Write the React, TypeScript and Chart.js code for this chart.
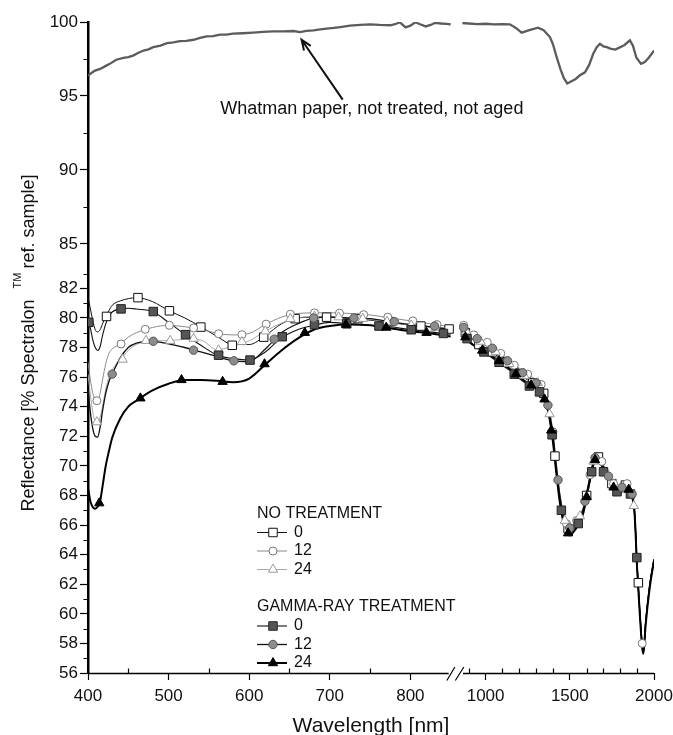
import React, { useEffect, useRef } from 'react';
import { Chart, LinearScale, registerables } from 'chart.js';

// ---------------- data ----------------
// Common wavelength grid for the six measured curves (null at 855 = axis break)
const WAVELENGTHS = [
  400, 403, 406, 409, 412, 415, 418, 422, 426, 430, 440, 450, 460, 480, 500, 520, 540, 560, 580, 600,
  620, 640, 660, 680, 700, 725, 750, 775, 800, 825, 850,
  855,
  867, 900, 950, 1000, 1050, 1100, 1150, 1200, 1250, 1300, 1330, 1360, 1380, 1400, 1420, 1440, 1460, 1480,
  1500, 1520, 1550, 1580, 1610, 1640, 1660, 1680, 1710, 1740, 1770, 1800, 1830, 1850, 1870, 1885, 1900,
  1915, 1930, 1937, 1950, 1975, 2000,
];

// NO TREATMENT, 0
const NT_0 = [
  81.4, 80.6, 79.8, 79.2, 79.05, 79.2, 79.6, 80.1, 80.5, 80.85, 81.15, 81.3, 81.37, 81.1, 80.5, 80.0, 79.4, 78.75, 78.2, 78.2,
  78.8, 79.6, 80.0, 80.05, 80.05, 79.95, 79.85, 79.7, 79.5, 79.4, 79.25,
  null,
  79.2, 78.8, 78.3, 78.0, 77.6, 77.1, 76.7, 76.2, 75.8, 75.5, 75.2, 74.4, 73.4, 71.9, 69.8, 67.9, 66.6, 65.9,
  65.7, 65.8, 66.2, 67.0, 68.6, 70.2, 70.75, 70.4, 69.6, 69.0, 68.5, 68.3, 68.7, 68.5, 68.0, 66.8, 63.0,
  60.2, 57.8, 57.4, 59.3, 61.9, 63.6,
];
// NO TREATMENT, 12
const NT_12 = [
  77.0, 75.8, 74.9, 74.45, 74.4, 74.9, 75.8, 76.9, 77.6, 77.9, 78.24, 78.7, 79.0, 79.35, 79.5, 79.4, 79.25, 78.95, 78.85, 78.95,
  79.55, 80.05, 80.3, 80.34, 80.35, 80.3, 80.2, 80.0, 79.8, 79.6, 79.4,
  null,
  79.5, 79.1, 78.7, 78.4, 78.0, 77.5, 77.0, 76.6, 76.2, 75.8, 75.5, 74.7, 73.7, 72.3, 70.2, 68.2, 66.9, 66.1,
  65.9, 66.0, 66.4, 67.2, 68.8, 70.4, 70.9, 70.6, 69.8, 69.2, 68.7, 68.5, 68.9, 68.7, 68.2, 67.0, 63.3,
  60.4, 58.0, 57.6, 59.4, 61.9, 63.5,
];
// NO TREATMENT, 24
const NT_24 = [
  76.2, 74.8, 73.6, 73.0, 72.9, 73.3, 74.0, 75.2, 76.0, 76.5, 77.15, 77.8, 78.2, 78.46, 78.46, 78.55, 78.5, 77.85, 78.1, 78.45,
  79.1, 79.65, 80.0, 80.1, 80.1, 80.0, 79.9, 79.7, 79.5, 79.35, 79.2,
  null,
  79.3, 78.9, 78.5, 78.2, 77.8, 77.3, 76.8, 76.4, 76.0, 75.7, 75.3, 74.5, 73.5, 72.0, 69.9, 68.0, 66.7, 66.0,
  65.8, 65.9, 66.3, 67.1, 68.7, 70.3, 70.8, 70.5, 69.7, 69.1, 68.6, 68.4, 68.8, 68.6, 68.1, 66.9, 63.1,
  60.3, 57.9, 57.5, 59.3, 61.8, 63.5,
];
// GAMMA-RAY TREATMENT, 0
const GR_0 = [
  79.9, 79.3, 78.5, 78.0, 77.8, 78.05, 78.8, 79.6, 80.1, 80.4, 80.6, 80.65, 80.6, 80.43, 79.7, 78.9, 78.15, 77.5, 77.25, 77.15,
  77.7, 78.65, 79.2, 79.5, 79.7, 79.6, 79.5, 79.4, 79.2, 79.05, 78.9,
  null,
  79.0, 78.5, 78.0, 77.6, 77.2, 76.8, 76.4, 75.9, 75.5, 75.2, 74.9, 74.1, 73.1, 71.7, 69.6, 67.7, 66.4, 65.8,
  65.6, 65.7, 66.1, 66.9, 68.4, 70.0, 70.6, 70.2, 69.4, 68.8, 68.3, 68.1, 68.5, 68.3, 67.9, 66.6, 63.2,
  60.3, 57.9, 57.5, 59.4, 62.0, 63.7,
];
// GAMMA-RAY TREATMENT, 12
const GR_12 = [
  75.2, 73.6, 72.5, 72.0, 71.95, 72.6, 73.7, 74.9, 75.7, 76.2, 77.3, 78.0, 78.3, 78.42, 78.25, 78.0, 77.7, 77.4, 77.1, 77.05,
  77.9, 79.0, 79.6, 79.99, 80.05, 80.0, 79.95, 79.75, 79.55, 79.4, 79.2,
  null,
  79.4, 79.0, 78.6, 78.3, 77.9, 77.4, 76.9, 76.5, 76.1, 75.6, 75.4, 74.6, 73.6, 72.1, 70.0, 68.1, 66.8, 66.0,
  65.8, 65.9, 66.3, 67.1, 68.7, 70.3, 70.8, 70.5, 69.7, 69.1, 68.6, 68.4, 68.8, 68.6, 68.1, 66.9, 63.2,
  60.3, 57.9, 57.5, 59.4, 62.0, 63.7,
];
// GAMMA-RAY TREATMENT, 24
const GR_24 = [
  68.5, 67.6, 67.2, 67.1, 67.25, 67.6, 68.6, 70.0, 71.0, 71.9, 73.2, 74.0, 74.4, 75.1, 75.55, 75.8, 75.8, 75.75, 75.65, 75.9,
  76.85, 77.8, 78.6, 79.2, 79.45, 79.55, 79.5, 79.3, 79.1, 78.95, 78.75,
  null,
  78.9, 78.4, 78.0, 77.7, 77.3, 76.9, 76.5, 76.0, 75.6, 75.3, 75.0, 74.2, 73.2, 71.6, 69.5, 67.6, 66.3, 65.6,
  65.3, 65.5, 66.0, 66.8, 68.5, 70.1, 70.65, 70.3, 69.5, 68.9, 68.4, 68.2, 68.6, 68.4, 67.9, 66.7, 63.0,
  60.1, 57.7, 57.3, 59.2, 61.8, 63.6,
];

// Symbol positions (wavelength / reflectance) for each curve
const NT_0_MARK_WL = [423, 462, 501, 540, 579, 618, 657, 696, 735, 774, 813, 848, 880, 960, 1040, 1120, 1200, 1280, 1345, 1412, 1490, 1600, 1670, 1750, 1830, 1907];
const NT_0_MARK_VAL = [80.1, 81.37, 80.48, 79.38, 78.15, 78.7, 79.95, 80.05, 79.95, 79.75, 79.45, 79.25, 79.0, 78.2, 77.7, 77.0, 76.2, 75.6, 74.9, 70.66, 65.75, 68.0, 70.6, 68.8, 68.7, 62.1];
const NT_12_MARK_WL = [411, 441, 471, 501, 531, 562, 591, 621, 651, 681, 712, 742, 772, 803, 833, 870, 930, 1010, 1090, 1170, 1250, 1330, 1400, 1480, 1540, 1620, 1690, 1760, 1840, 1930];
const NT_12_MARK_VAL = [74.4, 78.24, 79.23, 79.5, 79.32, 78.93, 78.87, 79.58, 80.25, 80.34, 80.32, 80.22, 80.05, 79.8, 79.55, 79.5, 78.85, 78.35, 77.6, 76.8, 76.2, 75.5, 72.3, 66.1, 66.3, 69.4, 70.3, 68.8, 68.8, 58.0];
const NT_24_MARK_WL = [411, 443, 472, 502, 531, 562, 591, 620, 651, 681, 711, 741, 771, 801, 831, 885, 970, 1060, 1140, 1230, 1310, 1380, 1470, 1560, 1640, 1720, 1800, 1880];
const NT_24_MARK_VAL = [72.96, 77.19, 78.46, 78.46, 78.6, 77.82, 78.38, 79.1, 79.94, 80.1, 80.05, 79.95, 79.75, 79.5, 79.35, 79.1, 78.4, 77.7, 76.9, 76.1, 75.6, 73.5, 66.3, 66.6, 70.3, 69.5, 68.4, 67.3];
const GR_0_MARK_WL = [401, 441, 481, 521, 562, 601, 641, 681, 721, 761, 801, 841, 890, 990, 1080, 1170, 1260, 1320, 1395, 1450, 1550, 1630, 1700, 1780, 1860, 1898];
const GR_0_MARK_VAL = [79.7, 80.61, 80.43, 78.87, 77.48, 77.15, 78.73, 79.54, 79.6, 79.45, 79.2, 78.95, 78.6, 77.7, 77.0, 76.2, 75.4, 75.0, 72.1, 67.0, 66.1, 69.6, 69.6, 68.25, 68.1, 63.8];
const GR_12_MARK_WL = [430, 481, 531, 581, 631, 680, 730, 780, 830, 870, 950, 1040, 1130, 1220, 1300, 1370, 1430, 1500, 1590, 1650, 1730, 1810, 1870];
const GR_12_MARK_VAL = [76.2, 78.42, 77.82, 77.1, 78.56, 79.99, 80.0, 79.75, 79.45, 79.35, 78.6, 77.95, 77.1, 76.3, 75.6, 74.1, 69.05, 65.8, 67.6, 70.55, 69.3, 68.55, 68.1];
const GR_24_MARK_WL = [414, 465, 516, 567, 619, 669, 720, 770, 820, 880, 980, 1080, 1180, 1270, 1350, 1390, 1490, 1600, 1650, 1760, 1850];
const GR_24_MARK_VAL = [67.48, 74.57, 75.81, 75.69, 76.88, 79.0, 79.55, 79.35, 79.0, 78.7, 77.8, 77.1, 76.2, 75.45, 74.5, 72.4, 65.45, 67.9, 70.4, 68.55, 68.4];

// Whatman paper, not treated, not aged
const WHATMAN_WL = [
  400, 408, 415, 421, 427, 435, 444, 450, 456, 462, 469, 475, 481, 490, 498, 506, 514, 522, 531, 539,
  547, 555, 564, 572, 580, 592, 605, 617, 630, 642, 655, 663, 671, 680, 688, 696, 705, 713, 725, 738,
  750, 762, 775, 781, 787, 794, 800, 806, 812, 819, 825, 831, 838, 845, 850,
  855,
  862, 900, 950, 1000, 1050, 1100, 1144, 1180, 1214, 1260, 1311, 1345, 1382, 1400, 1422, 1445, 1465, 1485,
  1510, 1535, 1560, 1590, 1615, 1639, 1660, 1679, 1700, 1720, 1740, 1770, 1800, 1825, 1857, 1875, 1895,
  1923, 1945, 1970, 2000,
];
const WHATMAN_VAL = [
  96.37, 96.7, 96.83, 97.0, 97.17, 97.45, 97.58, 97.62, 97.73, 97.9, 98.07, 98.15, 98.3, 98.4, 98.57, 98.62, 98.71, 98.72, 98.8, 98.92,
  99.03, 99.05, 99.14, 99.15, 99.21, 99.24, 99.28, 99.33, 99.37, 99.36, 99.39, 99.32, 99.4, 99.44, 99.5, 99.55, 99.6, 99.66, 99.75, 99.8,
  99.84, 99.8, 99.78, 99.85, 99.98, 99.64, 99.75, 99.98, 99.85, 99.7, 99.8, 99.95, 99.9, 99.88, 99.84,
  null,
  99.93, 99.9, 99.86, 99.88, 99.84, 99.85, 99.84, 99.6, 99.28, 99.45, 99.62, 99.45, 98.98, 98.5, 97.62, 96.8, 96.2, 95.85,
  96.0, 96.15, 96.4, 96.6, 97.1, 97.85, 98.3, 98.53, 98.35, 98.3, 98.2, 98.14, 98.3, 98.45, 98.76, 98.4, 97.6,
  97.17, 97.3, 97.6, 98.07,
];

// axes
const X_TICKS = [400, 500, 600, 700, 800, 1000, 1500, 2000];
const X_MINOR = [450, 550, 650, 750, 900, 1100, 1200, 1300, 1400, 1600, 1700, 1800, 1900];
const Y_TICKS = [56, 58, 60, 62, 64, 66, 68, 70, 72, 74, 76, 78, 80, 82, 85, 90, 95, 100];
const Y_MINOR = [57, 59, 61, 63, 65, 67, 69, 71, 73, 75, 77, 79, 81, 83, 87.5, 92.5, 97.5];

// broken wavelength axis: 400-850 and 860-2000
const X_MIN = 400, X_MAX = 2000, LEFT_END = 850, RIGHT_START = 860;
const SPLIT_A = 0.6408, SPLIT_B = 0.6608;

// annotation (data coordinates)
const NOTE_TEXT = 'Whatman paper, not treated, not aged';
const NOTE_POS = [564, 94.15];
const ARROW_FROM = [716, 94.75];
const ARROW_TO = [665, 98.8];

const FONT = '"Liberation Sans", Arial, Helvetica, sans-serif';

class BrokenXScale extends LinearScale {
  static id = 'brokenX';
  static defaults = LinearScale.defaults;
  fracOf(v: number) {
    if (v <= LEFT_END) return ((v - X_MIN) / (LEFT_END - X_MIN)) * SPLIT_A;
    if (v >= RIGHT_START) return SPLIT_B + ((v - RIGHT_START) / (X_MAX - RIGHT_START)) * (1 - SPLIT_B);
    return SPLIT_A + ((v - LEFT_END) / (RIGHT_START - LEFT_END)) * (SPLIT_B - SPLIT_A);
  }
  getPixelForValue(value: any) {
    if (value === null || value === undefined || isNaN(value)) return NaN;
    return this.left + this.fracOf(+value) * this.width;
  }
  getValueForPixel(p: number) {
    const f = (p - this.left) / this.width;
    if (f <= SPLIT_A) return X_MIN + (f / SPLIT_A) * (LEFT_END - X_MIN);
    if (f >= SPLIT_B) return RIGHT_START + ((f - SPLIT_B) / (1 - SPLIT_B)) * (X_MAX - RIGHT_START);
    return LEFT_END + ((f - SPLIT_A) / (SPLIT_B - SPLIT_A)) * (RIGHT_START - LEFT_END);
  }
}

Chart.register(...registerables);
Chart.register(BrokenXScale as any);

type Series = {
  values: (number | null)[];
  markWl: number[];
  markVal: number[];
  lineColor: string;
  lineWidth: number;
  pointStyle: 'rect' | 'circle' | 'triangle';
  radius: number;
  fill: string;
  stroke: string;
};

const SERIES: Series[] = [
  { values: NT_0, markWl: NT_0_MARK_WL, markVal: NT_0_MARK_VAL, lineColor: '#111', lineWidth: 1, pointStyle: 'rect', radius: 6, fill: '#fff', stroke: '#111' },
  { values: NT_12, markWl: NT_12_MARK_WL, markVal: NT_12_MARK_VAL, lineColor: '#8a8a8a', lineWidth: 1, pointStyle: 'circle', radius: 4, fill: '#fff', stroke: '#777' },
  { values: NT_24, markWl: NT_24_MARK_WL, markVal: NT_24_MARK_VAL, lineColor: '#a8a8a8', lineWidth: 1, pointStyle: 'triangle', radius: 5.4, fill: '#fff', stroke: '#999' },
  { values: GR_0, markWl: GR_0_MARK_WL, markVal: GR_0_MARK_VAL, lineColor: '#111', lineWidth: 1.1, pointStyle: 'rect', radius: 6, fill: '#555', stroke: '#222' },
  { values: GR_12, markWl: GR_12_MARK_WL, markVal: GR_12_MARK_VAL, lineColor: '#111', lineWidth: 1.3, pointStyle: 'circle', radius: 4.2, fill: '#8c8c8c', stroke: '#555' },
  { values: GR_24, markWl: GR_24_MARK_WL, markVal: GR_24_MARK_VAL, lineColor: '#000', lineWidth: 2, pointStyle: 'triangle', radius: 5.4, fill: '#000', stroke: '#000' },
];

const LEGEND_GROUPS = [
  { title: 'NO TREATMENT', labels: ['0', '12', '24'], series: [0, 1, 2] },
  { title: 'GAMMA-RAY TREATMENT', labels: ['0', '12', '24'], series: [3, 4, 5] },
];

function drawMarker(ctx: CanvasRenderingContext2D, style: string, x: number, y: number, r: number, fill: string, stroke: string) {
  ctx.beginPath();
  if (style === 'rect') {
    const s = r * Math.SQRT1_2;
    ctx.rect(x - s, y - s, 2 * s, 2 * s);
  } else if (style === 'circle') {
    ctx.arc(x, y, r, 0, Math.PI * 2);
  } else {
    const s = Math.sin((2 * Math.PI) / 3) * r;
    ctx.moveTo(x, y - r);
    ctx.lineTo(x + s, y + r / 2);
    ctx.lineTo(x - s, y + r / 2);
    ctx.closePath();
  }
  ctx.fillStyle = fill;
  ctx.fill();
  ctx.lineWidth = 1;
  ctx.strokeStyle = stroke;
  ctx.stroke();
}

const decorations = {
  id: 'decorations',
  afterDraw(chart: any) {
    const ctx: CanvasRenderingContext2D = chart.ctx;
    const xs = chart.scales.x;
    const ys = chart.scales.y;
    const area = chart.chartArea;
    ctx.save();
    ctx.strokeStyle = '#000';
    ctx.lineCap = 'butt';

    // x axis line, in two parts
    const yb = area.bottom + 0.5;
    const xl0 = xs.getPixelForValue(X_MIN);
    const xl1 = xs.getPixelForValue(LEFT_END);
    const xr0 = xs.getPixelForValue(RIGHT_START);
    const xr1 = xs.getPixelForValue(X_MAX);
    ctx.lineWidth = 1.3;
    ctx.beginPath();
    ctx.moveTo(xl0, yb); ctx.lineTo(xl1 - 2, yb);
    ctx.moveTo(xr0 + 1, yb); ctx.lineTo(xr1, yb);
    ctx.stroke();
    // break marks
    const g = (xl1 + xr0) / 2;
    ctx.lineWidth = 1.2;
    ctx.beginPath();
    ctx.moveTo(g - 9.5, yb + 7); ctx.lineTo(g - 1.5, yb - 6.5);
    ctx.moveTo(g - 1, yb + 7); ctx.lineTo(g + 7.5, yb - 6.5);
    ctx.stroke();

    // x minor ticks (inward)
    ctx.lineWidth = 1.2;
    ctx.beginPath();
    X_MINOR.forEach((v) => {
      const px = Math.round(xs.getPixelForValue(v)) + 0.5;
      ctx.moveTo(px, yb); ctx.lineTo(px, yb - 5);
    });
    // y minor ticks (outward)
    Y_MINOR.forEach((v) => {
      const py = Math.round(ys.getPixelForValue(v)) + 0.5;
      ctx.moveTo(area.left - 4.5, py); ctx.lineTo(area.left, py);
    });
    ctx.stroke();

    // axis titles
    ctx.fillStyle = '#111';
    ctx.font = `21px ${FONT}`;
    ctx.textAlign = 'center';
    ctx.textBaseline = 'middle';
    ctx.fillText('Wavelength [nm]', (area.left + area.right) / 2, 726);

    ctx.save();
    ctx.translate(29, 343);
    ctx.rotate(-Math.PI / 2);
    const p1 = 'Reflectance [% Spectralon';
    const p2 = 'TM';
    const p3 = 'ref. sample]';
    const gap1 = 11, gap2 = 4;
    ctx.font = `18px ${FONT}`;
    const w1 = ctx.measureText(p1).width;
    const w3 = ctx.measureText(p3).width;
    ctx.font = `11px ${FONT}`;
    const w2 = ctx.measureText(p2).width;
    const x0 = -(w1 + gap1 + w2 + gap2 + w3) / 2;
    ctx.textAlign = 'left';
    ctx.font = `18px ${FONT}`;
    ctx.fillText(p1, x0, 0);
    ctx.font = `11px ${FONT}`;
    ctx.fillText(p2, x0 + w1 + gap1, -11);
    ctx.font = `18px ${FONT}`;
    ctx.fillText(p3, x0 + w1 + gap1 + w2 + gap2, 0);
    ctx.restore();

    // annotation + arrow
    ctx.font = `18px ${FONT}`;
    ctx.textAlign = 'left';
    ctx.fillText(NOTE_TEXT, xs.getPixelForValue(NOTE_POS[0]), ys.getPixelForValue(NOTE_POS[1]));
    const ax0 = xs.getPixelForValue(ARROW_FROM[0]);
    const ay0 = ys.getPixelForValue(ARROW_FROM[1]);
    const ax1 = xs.getPixelForValue(ARROW_TO[0]);
    const ay1 = ys.getPixelForValue(ARROW_TO[1]);
    const ang = Math.atan2(ay1 - ay0, ax1 - ax0);
    ctx.lineWidth = 2;
    ctx.strokeStyle = '#111';
    ctx.beginPath();
    ctx.moveTo(ax0, ay0); ctx.lineTo(ax1, ay1);
    const hl = 11, ha = 0.38;
    ctx.moveTo(ax1 - hl * Math.cos(ang - ha), ay1 - hl * Math.sin(ang - ha));
    ctx.lineTo(ax1, ay1);
    ctx.lineTo(ax1 - hl * Math.cos(ang + ha), ay1 - hl * Math.sin(ang + ha));
    ctx.stroke();

    // legend
    const lx0 = 257, lx1 = 287, mx = 273, tx = 294;
    const headerY = [514, 607];
    const rowY = [[532.5, 551, 569.5], [626, 644.5, 663]];
    ctx.font = `16px ${FONT}`;
    ctx.textBaseline = 'middle';
    LEGEND_GROUPS.forEach((grp, gi) => {
      ctx.fillStyle = '#111';
      ctx.textAlign = 'left';
      ctx.fillText(grp.title, lx0, headerY[gi]);
      grp.series.forEach((si, ri) => {
        const s = SERIES[si];
        const y = rowY[gi][ri];
        ctx.strokeStyle = s.lineColor;
        ctx.lineWidth = s.lineWidth;
        ctx.beginPath();
        ctx.moveTo(lx0, y); ctx.lineTo(lx1, y);
        ctx.stroke();
        drawMarker(ctx, s.pointStyle, mx, y, s.radius, s.fill, s.stroke);
        ctx.fillStyle = '#111';
        ctx.fillText(grp.labels[ri], tx, y);
      });
    });
    ctx.restore();
  },
};

export default function App() {
  const canvasRef = useRef<HTMLCanvasElement | null>(null);

  useEffect(() => {
    document.body.style.margin = '0';
    const canvas = canvasRef.current;
    if (!canvas) return;

    const datasets: any[] = [];
    datasets.push({
      label: 'Whatman',
      data: WHATMAN_WL.map((x, i) => ({ x, y: WHATMAN_VAL[i] })),
      borderColor: '#5c5c5c',
      borderWidth: 2.3,
      pointRadius: 0,
      tension: 0,
      spanGaps: false,
      order: 20,
    });
    SERIES.forEach((s, i) => {
      datasets.push({
        label: `line${i}`,
        data: WAVELENGTHS.map((x, k) => ({ x, y: s.values[k] })),
        borderColor: s.lineColor,
        borderWidth: s.lineWidth,
        pointRadius: 0,
        cubicInterpolationMode: 'monotone',
        spanGaps: false,
        order: 10 + (SERIES.length - i),
      });
    });
    SERIES.forEach((s, i) => {
      datasets.push({
        label: `marks${i}`,
        data: s.markWl.map((x, k) => ({ x, y: s.markVal[k] })),
        showLine: false,
        pointStyle: s.pointStyle,
        pointRadius: s.radius,
        pointBackgroundColor: s.fill,
        pointBorderColor: s.stroke,
        pointBorderWidth: 1,
        order: SERIES.length - i,
      });
    });

    const chart = new Chart(canvas, {
      type: 'line',
      data: { datasets },
      plugins: [decorations],
      options: {
        animation: false,
        responsive: false,
        devicePixelRatio: 1,
        layout: { padding: { top: 22, right: 19, left: 0, bottom: 0 } },
        plugins: { legend: { display: false }, tooltip: { enabled: false } },
        scales: {
          x: {
            type: 'brokenX' as any,
            min: X_MIN,
            max: X_MAX,
            afterBuildTicks: (s: any) => { s.ticks = X_TICKS.map((v) => ({ value: v })); },
            afterFit: (s: any) => { s.height = 62; s.paddingLeft = 0; s.paddingRight = 0; },
            ticks: {
              autoSkip: false,
              maxRotation: 0,
              minRotation: 0,
              padding: 6,
              color: '#111',
              font: { family: FONT, size: 17 },
              callback: (v: any) => String(v),
            },
            grid: { drawOnChartArea: false, drawTicks: true, tickLength: 7, tickColor: '#000', tickWidth: 1.2 },
            border: { display: false },
          },
          y: {
            type: 'linear',
            min: 56,
            max: 100,
            afterBuildTicks: (s: any) => { s.ticks = Y_TICKS.map((v) => ({ value: v })); },
            afterFit: (s: any) => { s.width = 88; s.paddingTop = 0; s.paddingBottom = 0; },
            ticks: {
              autoSkip: false,
              padding: 2,
              color: '#111',
              font: { family: FONT, size: 17 },
              callback: (v: any) => String(v),
            },
            grid: { drawOnChartArea: false, drawTicks: true, tickLength: 8, tickColor: '#000', tickWidth: 1.2 },
            border: { display: true, color: '#000', width: 2.5 },
          },
        },
      } as any,
    });
    return () => chart.destroy();
  }, []);

  return (
    <div style={{ width: 673, height: 735 }}>
      <canvas ref={canvasRef} width={673} height={735} style={{ display: 'block' }} />
    </div>
  );
}
